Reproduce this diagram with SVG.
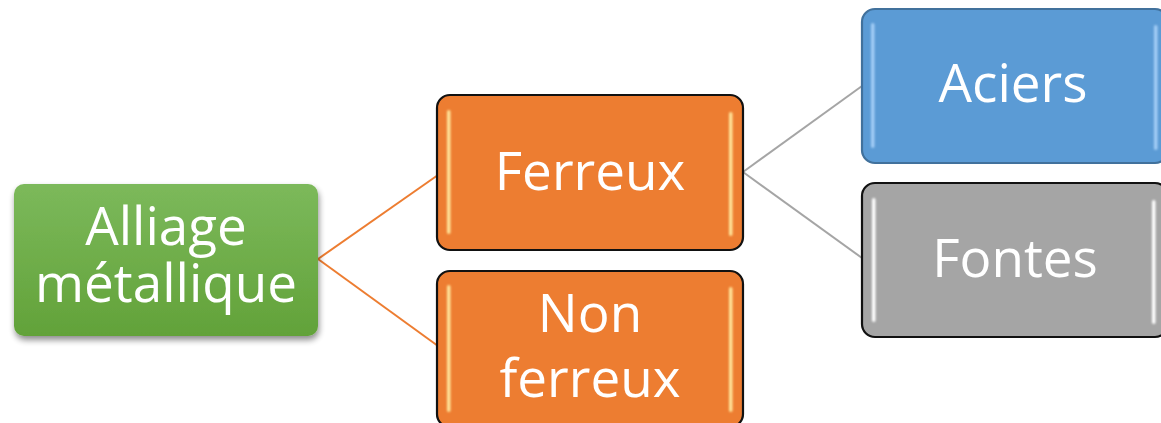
<svg xmlns="http://www.w3.org/2000/svg" width="1161" height="423" viewBox="0 0 1161 423">
  <defs>
    <linearGradient id="gGreen" x1="0" y1="0" x2="0" y2="1">
      <stop offset="0" stop-color="#7cb95b"/>
      <stop offset="1" stop-color="#62a239"/>
    </linearGradient>
    <filter id="shadow" x="-10%" y="-10%" width="130%" height="140%">
      <feGaussianBlur in="SourceAlpha" stdDeviation="3"/>
      <feOffset dx="1" dy="4" result="b"/>
      <feComponentTransfer><feFuncA type="linear" slope="0.45"/></feComponentTransfer>
      <feMerge><feMergeNode/><feMergeNode in="SourceGraphic"/></feMerge>
    </filter>
    <filter id="glow" filterUnits="userSpaceOnUse" x="0" y="0" width="1161" height="423">
      <feGaussianBlur stdDeviation="0.9"/>
    </filter>
  </defs>
  <style>
    .label { font-family: "Open Sans", "Noto Sans", sans-serif; fill: #ffffff; text-anchor: middle; font-size: 53px; }
    .orange { fill: #ed7d31; stroke: #111111; stroke-width: 2.2; }
    .blue { fill: #5b9bd5; stroke: #41719c; stroke-width: 2.2; }
    .gray { fill: #a5a5a5; stroke: #111111; stroke-width: 2.2; }
    .hl-orange { fill: #ffe49a; }
    .hl-blue { fill: #a3cdf6; }
    .hl-gray { fill: #ffffff; }
    .edge-orange { stroke: #ed7d31; stroke-width: 2; fill: none; }
    .edge-gray { stroke: #a5a5a5; stroke-width: 2; fill: none; }
  </style>

  <g id="connectors">
    <line class="edge-orange" x1="318" y1="259" x2="438" y2="175"/>
    <line class="edge-orange" x1="318" y1="259" x2="438" y2="346"/>
    <line class="edge-gray" x1="743" y1="172" x2="862" y2="86"/>
    <line class="edge-gray" x1="743" y1="172" x2="862" y2="258"/>
  </g>

  <g id="node-alliage">
    <rect x="14" y="184" width="304" height="152" rx="10" fill="url(#gGreen)" filter="url(#shadow)"/>
    <text class="label" x="166" y="245">Alliage</text>
    <text class="label" x="166" y="302">métallique</text>
  </g>

  <g id="node-ferreux">
    <rect class="orange" x="437" y="95" width="306" height="155" rx="13"/>
    <g filter="url(#glow)">
      <rect class="hl-orange" x="447" y="110" width="3.5" height="124" rx="1.7"/>
      <rect class="hl-orange" x="729" y="112" width="3.5" height="124" rx="1.7"/>
    </g>
    <text class="label" x="590" y="190">Ferreux</text>
  </g>

  <g id="node-nonferreux">
    <rect class="orange" x="437" y="271" width="306" height="156" rx="13"/>
    <g filter="url(#glow)">
      <rect class="hl-orange" x="447" y="285" width="3.5" height="127" rx="1.7"/>
      <rect class="hl-orange" x="729" y="287" width="3.5" height="125" rx="1.7"/>
    </g>
    <text class="label" x="590" y="332">Non</text>
    <text class="label" x="590" y="397">ferreux</text>
  </g>

  <g id="node-aciers">
    <rect class="blue" x="862" y="9" width="306" height="154" rx="13"/>
    <g filter="url(#glow)">
      <rect class="hl-blue" x="871" y="23" width="3.5" height="125" rx="1.7"/>
      <rect class="hl-blue" x="1154" y="25" width="3.5" height="125" rx="1.7"/>
    </g>
    <text class="label" x="1013" y="102">Aciers</text>
  </g>

  <g id="node-fontes">
    <rect class="gray" x="862" y="183" width="306" height="154" rx="13"/>
    <g filter="url(#glow)">
      <rect class="hl-gray" x="872" y="198" width="3.5" height="124" rx="1.7"/>
      <rect class="hl-gray" x="1152" y="200" width="3.5" height="124" rx="1.7"/>
    </g>
    <text class="label" x="1015" y="277">Fontes</text>
  </g>
</svg>
